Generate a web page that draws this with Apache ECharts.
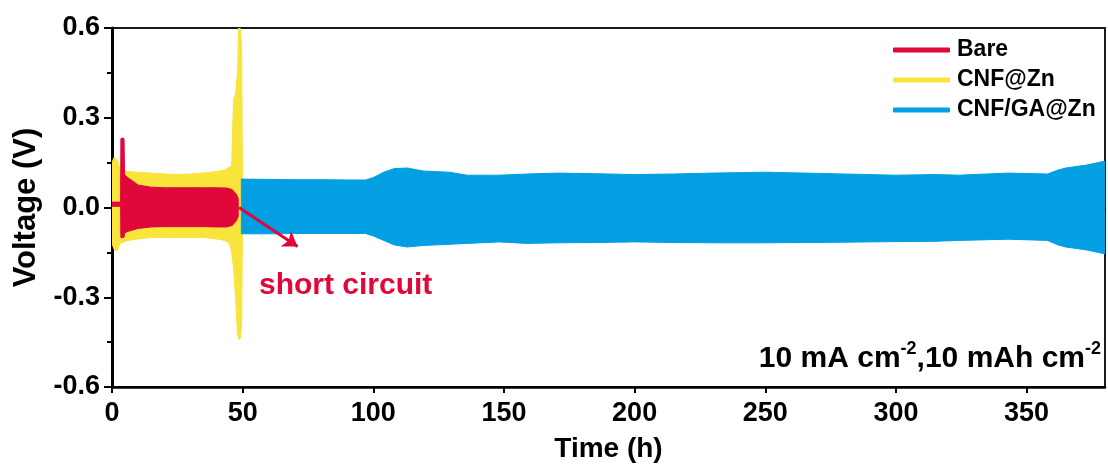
<!DOCTYPE html>
<html>
<head>
<meta charset="utf-8">
<script src="https://cdn.jsdelivr.net/npm/echarts@6/dist/echarts.min.js"></script>
<style>
  html, body { margin: 0; padding: 0; background: #fff; }
  #chart { width: 1108px; height: 468px; }
</style>
</head>
<body>
<div id="chart"></div>
<script>
// Galvanostatic cycling of symmetric cells, 10 mA cm-2 / 10 mAh cm-2.
// Each trace is stored as the upper and lower voltage envelope of its cycling band.

// Bare Zn
const bareTime  = [0, 3.3, 3.4, 4.0, 4.6, 4.8, 6, 8, 10, 15, 20, 25, 30, 35, 40, 44, 46, 47.5, 48.3];
const bareUpper = [0.018, 0.018, 0.23, 0.232, 0.23, 0.11, 0.1, 0.088, 0.075, 0.068, 0.066, 0.066, 0.066, 0.066, 0.066, 0.065, 0.06, 0.045, 0.03];
const bareLower = [0.004, 0.004, -0.1, -0.1, -0.1, -0.085, -0.08, -0.075, -0.07, -0.065, -0.064, -0.064, -0.064, -0.064, -0.065, -0.065, -0.06, -0.045, -0.03];

// CNF@Zn
const cnfTime  = [0, 0.8, 2, 3, 4.5, 6, 10, 15, 20, 25, 30, 35, 40, 43, 45, 45.8, 46.5, 47.3, 48.0, 48.5, 49.0, 49.6, 49.9];
const cnfUpper = [0.15, 0.168, 0.16, 0.13, 0.12, 0.12, 0.118, 0.115, 0.112, 0.11, 0.112, 0.115, 0.12, 0.125, 0.135, 0.14, 0.36, 0.38, 0.45, 0.6, 0.6, 0.55, 0.1];
const cnfLower = [-0.12, -0.14, -0.145, -0.12, -0.115, -0.11, -0.105, -0.1, -0.1, -0.1, -0.1, -0.1, -0.105, -0.11, -0.12, -0.15, -0.2, -0.3, -0.42, -0.44, -0.44, -0.4, -0.08];

// CNF/GA@Zn
const gaTime  = [49.5, 60, 70, 80, 90, 97, 100, 104, 108, 113, 119, 129, 136, 148, 159, 171, 185, 200, 215, 230, 250, 265, 280, 300, 315, 324, 343, 358, 362, 365, 373, 380];
const gaUpper = [0.095, 0.094, 0.093, 0.093, 0.092, 0.092, 0.1, 0.118, 0.13, 0.132, 0.122, 0.118, 0.108, 0.108, 0.112, 0.115, 0.113, 0.11, 0.112, 0.115, 0.118, 0.115, 0.112, 0.108, 0.11, 0.108, 0.115, 0.112, 0.125, 0.132, 0.142, 0.155];
const gaLower = [-0.088, -0.088, -0.087, -0.087, -0.087, -0.087, -0.095, -0.11, -0.125, -0.132, -0.127, -0.123, -0.12, -0.115, -0.12, -0.118, -0.117, -0.115, -0.117, -0.118, -0.118, -0.117, -0.116, -0.114, -0.113, -0.11, -0.106, -0.11, -0.125, -0.132, -0.142, -0.155];

// Short-circuit arrow, from the end of the bare trace
const arrowFrom = [48.6, 0.0];
const arrowTo   = [71, -0.13];

const seriesNames = ['Bare', 'CNF@Zn', 'CNF/GA@Zn'];
const COLORS = { 'Bare': '#E0083A', 'CNF@Zn': '#F8E43A', 'CNF/GA@Zn': '#029FE2' };
const FONT = '"Liberation Sans", Arial, Helvetica, sans-serif';

// Filled band between the lower and upper envelope, positioned through the axes.
function bandSeries(name, time, upper, lower, z) {
  const color = COLORS[name];
  return {
    type: 'custom',
    name: name,
    z: z,
    clip: true,
    itemStyle: { color: color },
    encode: { x: 0, y: [1, 2] },
    data: time.map((t, i) => [t, lower[i], upper[i]]),
    renderItem: function (params, api) {
      if (params.dataIndex !== 0) return null;
      const pts = [];
      for (let i = 0; i < time.length; i++) pts.push(api.coord([time[i], upper[i]]));
      for (let i = time.length - 1; i >= 0; i--) pts.push(api.coord([time[i], lower[i]]));
      return {
        type: 'polygon',
        shape: { points: pts },
        style: { fill: color, stroke: color, lineWidth: 1 }
      };
    }
  };
}

const chart = echarts.init(document.getElementById('chart'), null, { renderer: 'canvas' });

chart.setOption({
  animation: false,
  backgroundColor: '#fff',
  grid: {
    left: 112, right: 3, top: 28, bottom: 81,
    show: true, borderColor: '#1a1a1a', borderWidth: 2, backgroundColor: 'transparent'
  },
  legend: {
    data: seriesNames,
    orient: 'vertical',
    left: 893, top: 38,
    padding: 0,
    icon: 'roundRect',
    itemWidth: 57, itemHeight: 5,
    itemGap: 6,
    textStyle: { fontFamily: FONT, fontWeight: 'bold', fontSize: 23, color: '#000', lineHeight: 24, padding: [0, 0, 0, 2] }
  },
  xAxis: [
    {
      type: 'value', min: 0, max: 380, interval: 50, position: 'bottom',
      name: 'Time (h)', nameLocation: 'middle', nameGap: 62,
      nameTextStyle: { fontFamily: FONT, fontWeight: 'bold', fontSize: 28, color: '#000', verticalAlign: 'middle' },
      axisLine: { show: true, onZero: false, lineStyle: { color: '#000', width: 2.5 } },
      axisTick: { show: true, inside: false, length: 6, lineStyle: { color: '#000', width: 2 } },
      axisLabel: { showMaxLabel: false, margin: 13, fontFamily: FONT, fontWeight: 'bold', fontSize: 27, color: '#000' },
      splitLine: { show: false }
    },
    {
      // minor ticks every 25 h
      type: 'value', min: 0, max: 380, interval: 25, position: 'bottom',
      axisLine: { show: false },
      axisTick: { show: true, inside: false, length: 4, lineStyle: { color: '#000', width: 2 } },
      axisLabel: { show: false },
      splitLine: { show: false }
    }
  ],
  yAxis: {
    type: 'value', min: -0.6, max: 0.6, interval: 0.3,
    name: 'Voltage (V)', nameLocation: 'middle', nameGap: 86, nameRotate: 90,
    nameTextStyle: { fontFamily: FONT, fontWeight: 'bold', fontSize: 31, color: '#000', verticalAlign: 'middle' },
    axisLine: { show: true, onZero: false, lineStyle: { color: '#000', width: 3 } },
    axisTick: { show: true, inside: false, length: 8, lineStyle: { color: '#000', width: 2 } },
    minorTick: { show: true, splitNumber: 2, length: 5, lineStyle: { color: '#000', width: 2 } },
    axisLabel: {
      margin: 12, fontFamily: FONT, fontWeight: 'bold', fontSize: 27, color: '#000',
      formatter: v => v.toFixed(1)
    },
    splitLine: { show: false }
  },
  series: [
    bandSeries('CNF@Zn', cnfTime, cnfUpper, cnfLower, 2),
    bandSeries('CNF/GA@Zn', gaTime, gaUpper, gaLower, 3),
    bandSeries('Bare', bareTime, bareUpper, bareLower, 4),
    {
      type: 'line', name: 'arrow', data: [], z: 6,
      markLine: {
        silent: true,
        symbol: ['none', 'arrow'],
        symbolSize: 14,
        lineStyle: { color: COLORS['Bare'], width: 3, type: 'solid' },
        label: { show: false },
        data: [[{ coord: arrowFrom }, { coord: arrowTo }]]
      }
    }
  ],
  graphic: [
    {
      type: 'text', left: 259, top: 271, z: 10,
      style: { text: 'short circuit', fill: COLORS['Bare'], font: 'bold 30px ' + FONT }
    },
    {
      type: 'text', right: 7, top: 340, z: 10,
      style: {
        text: '{b|10 mA cm}{s|-2}{b|,10 mAh cm}{s|-2}',
        rich: {
          b: { font: 'bold 30px ' + FONT, fill: '#000', lineHeight: 34, verticalAlign: 'bottom' },
          s: { font: 'bold 18px ' + FONT, fill: '#000', lineHeight: 34, verticalAlign: 'top' }
        }
      }
    }
  ]
});
</script>
</body>
</html>
